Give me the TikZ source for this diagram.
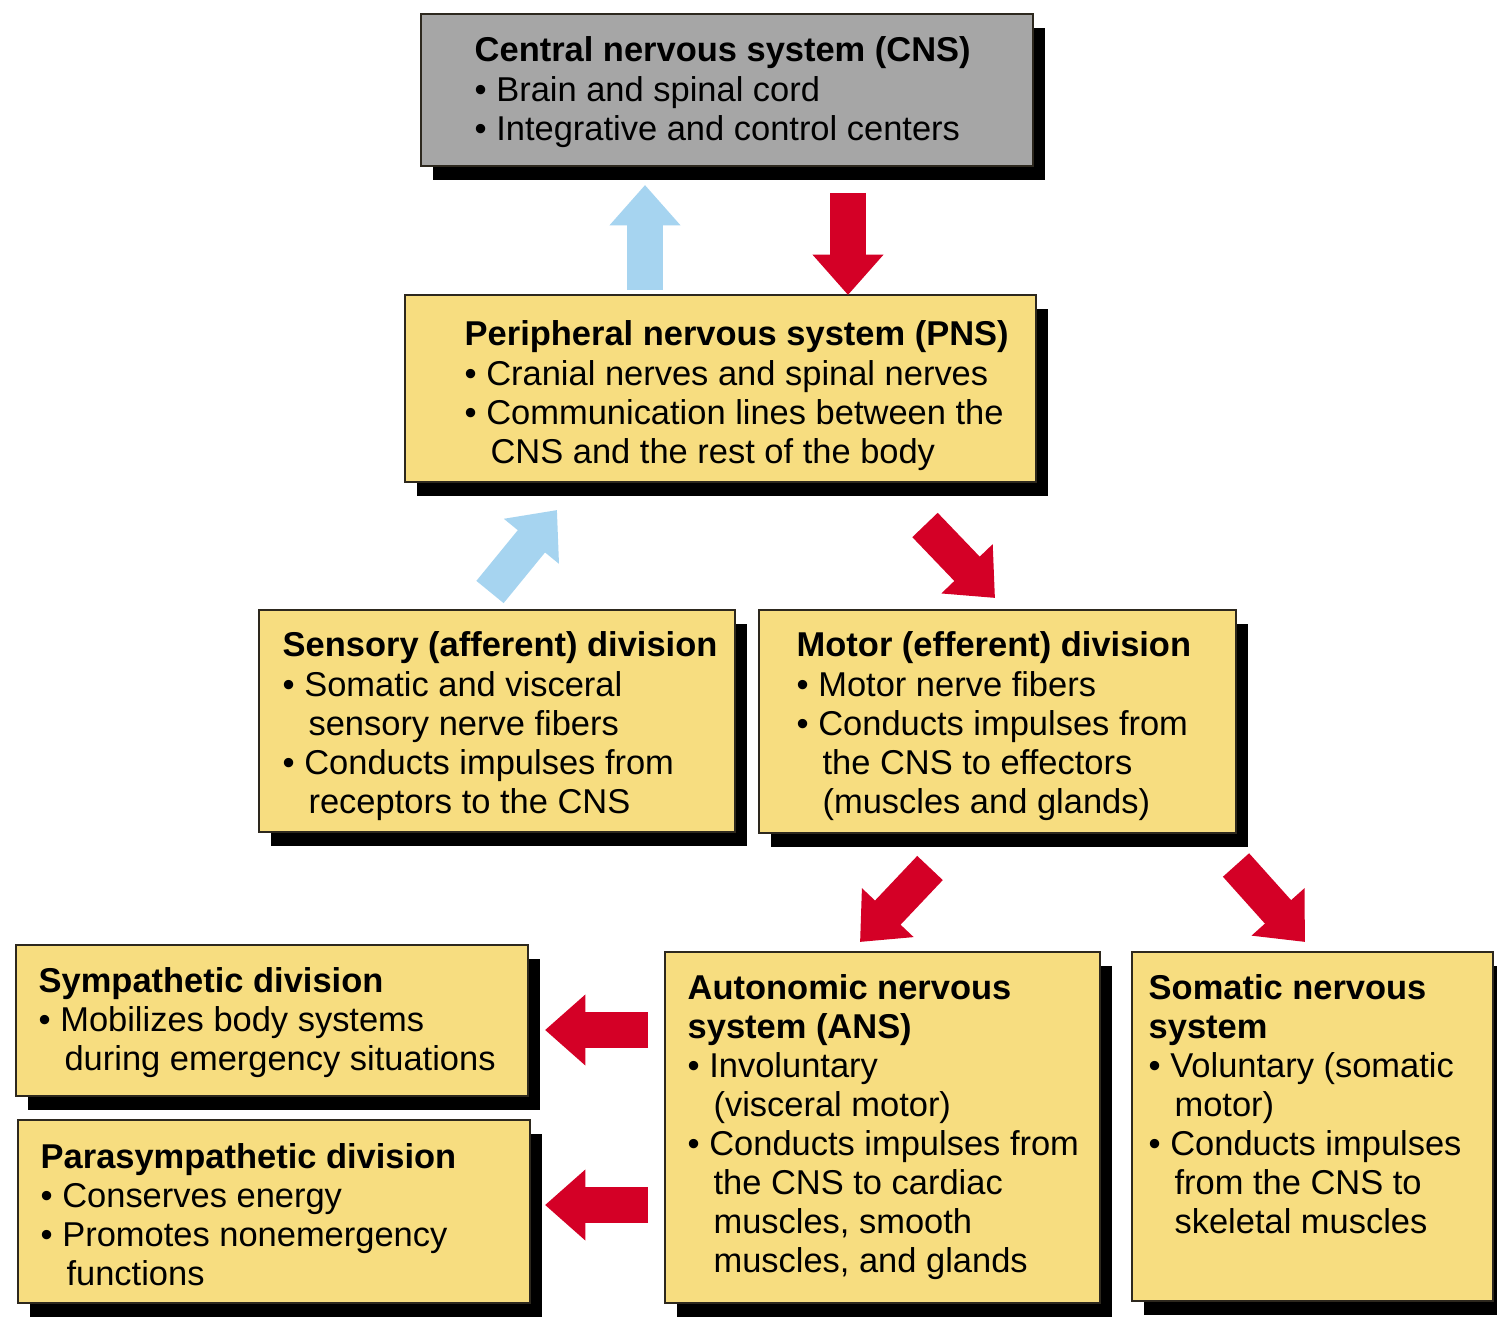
\documentclass[tikz,border=0pt]{standalone}
\usepackage{fontspec}
\setmainfont{Liberation Sans}
\usetikzlibrary{arrows.meta,fit,shadows}
\definecolor{boxyellow}{RGB}{247,221,128}
\definecolor{boxgray}{RGB}{166,166,166}
\definecolor{boxline}{RGB}{45,40,30}
\definecolor{arrred}{RGB}{212,0,38}
\definecolor{arrblue}{RGB}{166,212,240}
\newcommand\bul{•\ }
\newcommand\ind{\phantom{•\ }\hspace{1.2pt}}
\begin{document}
\begin{tikzpicture}[x=0.01cm,y=-0.01cm,
  boxbase/.style={draw=boxline, line width=0.7pt, inner sep=0pt,
    general shadow={fill=black, shadow xshift=0.12cm, shadow yshift=-0.14cm}},
  ybox/.style={boxbase, fill=boxyellow},
  gbox/.style={boxbase, fill=boxgray},
  txt/.style={anchor=base west, inner sep=0pt, font=\fontsize{9.8pt}{11.1pt}\selectfont},
  redarr/.style={draw=arrred, line width=10pt, -{Triangle[width=19.5pt,length=11.5pt]}},
  bluearr/.style={draw=arrblue, line width=10pt, -{Triangle[width=19.5pt,length=11.5pt]}}
]
\useasboundingbox (0,0) rectangle (1497,1322);
\fill[white] (0,0) rectangle (1497,1322);

% boxes
\node (cns) [gbox, fit={(421,14) (1033,166)}] {};
\node (pns) [ybox, fit={(405,295) (1036,482)}] {};
\node (sen) [ybox, fit={(259,610) (735,832)}] {};
\node (mot) [ybox, fit={(759,610) (1236,833)}] {};
\node (sym) [ybox, fit={(16,945) (528,1096)}] {};
\node (par) [ybox, fit={(18,1120) (530,1303)}] {};
\node (ans) [ybox, fit={(665,952) (1100,1303)}] {};
\node (som) [ybox, fit={(1132,952) (1493,1301)}] {};

% texts
\node (cnsT) [txt] at (474,62) {\begin{tabular}[t]{@{}l@{}}
\textbf{Central nervous system (CNS)}\\
\bul Brain and spinal cord\\
\bul Integrative and control centers\end{tabular}};

\node (pnsT) [txt] at (464,346) {\begin{tabular}[t]{@{}l@{}}
\textbf{Peripheral nervous system (PNS)}\\
\bul Cranial nerves and spinal nerves\\
\bul Communication lines between the\\
\ind CNS and the rest of the body\end{tabular}};

\node (senT) [txt] at (282,657) {\begin{tabular}[t]{@{}l@{}}
\textbf{Sensory (afferent) division}\\
\bul Somatic and visceral\\
\ind sensory nerve fibers\\
\bul Conducts impulses from\\
\ind receptors to the CNS\end{tabular}};

\node (motT) [txt] at (796,657) {\begin{tabular}[t]{@{}l@{}}
\textbf{Motor (efferent) division}\\
\bul Motor nerve fibers\\
\bul Conducts impulses from\\
\ind the CNS to effectors\\
\ind (muscles and glands)\end{tabular}};

\node (symT) [txt] at (38,992) {\begin{tabular}[t]{@{}l@{}}
\textbf{Sympathetic division}\\
\bul Mobilizes body systems\\
\ind during emergency situations\end{tabular}};

\node (parT) [txt] at (40,1168) {\begin{tabular}[t]{@{}l@{}}
\textbf{Parasympathetic division}\\
\bul Conserves energy\\
\bul Promotes nonemergency\\
\ind functions\end{tabular}};

\node (ansT) [txt] at (687,999) {\begin{tabular}[t]{@{}l@{}}
\textbf{Autonomic nervous}\\
\textbf{system (ANS)}\\
\bul Involuntary\\
\ind (visceral motor)\\
\bul Conducts impulses from\\
\ind the CNS to cardiac\\
\ind muscles, smooth\\
\ind muscles, and glands\end{tabular}};

\node (somT) [txt] at (1148,999) {\begin{tabular}[t]{@{}l@{}}
\textbf{Somatic nervous}\\
\textbf{system}\\
\bul Voluntary (somatic\\
\ind motor)\\
\bul Conducts impulses\\
\ind from the CNS to\\
\ind skeletal muscles\end{tabular}};

% arrow end points
\coordinate (b1s) at (645,290); \coordinate (b1e) at (645,185);
\coordinate (r1s) at (848,193); \coordinate (r1e) at (848,295);
\coordinate (b2s) at (490,592); \coordinate (b2e) at (557,510);
\coordinate (r2s) at (925,525); \coordinate (r2e) at (995,598);
\coordinate (r3s) at (930,868); \coordinate (r3e) at (860,942);
\coordinate (r4s) at (1236,865); \coordinate (r4e) at (1305,942);
\coordinate (r5s) at (648,1030); \coordinate (r5e) at (545,1030);
\coordinate (r6s) at (648,1205); \coordinate (r6e) at (545,1205);

\draw[bluearr] (b1s) -- (b1e);
\draw[redarr] (r1s) -- (r1e);
\draw[bluearr] (b2s) -- (b2e);
\draw[redarr] (r2s) -- (r2e);
\draw[redarr] (r3s) -- (r3e);
\draw[redarr] (r4s) -- (r4e);
\draw[redarr] (r5s) -- (r5e);
\draw[redarr] (r6s) -- (r6e);
\end{tikzpicture}
\end{document}
